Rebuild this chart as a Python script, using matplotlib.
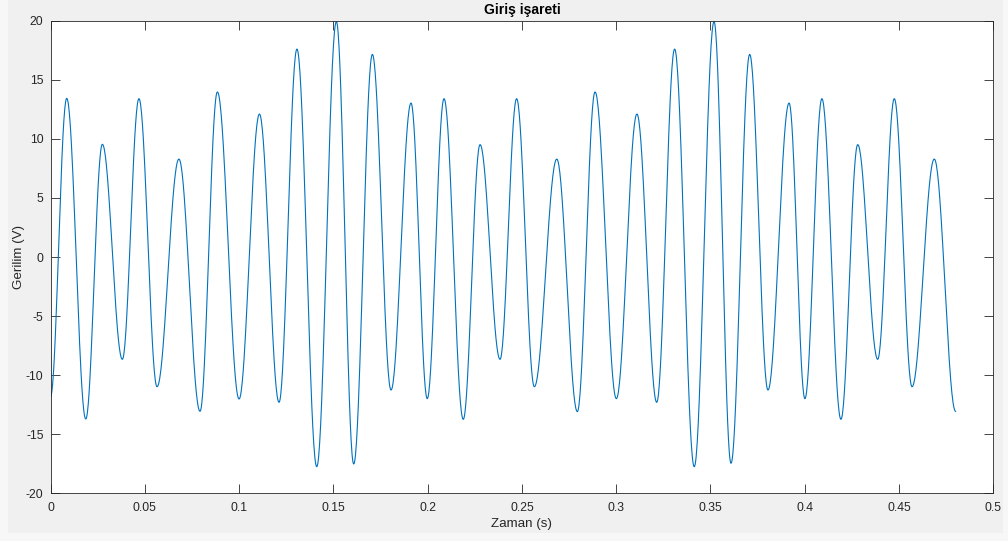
from __future__ import annotations

import numpy as np
import matplotlib

matplotlib.use("Agg")
import matplotlib.pyplot as plt
from matplotlib.patches import Rectangle


# local maxima of the input signal (time in s, voltage in V)
PEAK_T = [0.0086, 0.0275, 0.0469, 0.0681, 0.0885, 0.1108, 0.1307, 0.1516, 0.1707, 0.1912,
          0.2087, 0.2278, 0.2472, 0.2685, 0.2888, 0.3110, 0.3310, 0.3519, 0.3708, 0.3917,
          0.4091, 0.4281, 0.4475, 0.4687]
PEAK_V = [13.43, 9.54, 13.40, 8.29, 13.97, 12.10, 17.60, 19.92, 17.15, 13.03,
          13.40, 9.51, 13.40, 8.29, 13.97, 12.10, 17.60, 19.92, 17.15, 13.03,
          13.40, 9.51, 13.40, 8.29]

# local minima, including the first and last samples
TROUGH_T = [0.0, 0.0187, 0.0381, 0.0565, 0.0793, 0.1000, 0.1212, 0.1412, 0.1608, 0.1806,
            0.1998, 0.2189, 0.2384, 0.2566, 0.2794, 0.3001, 0.3215, 0.3414, 0.3609, 0.3805,
            0.4001, 0.4192, 0.4387, 0.4569, 0.4800]
TROUGH_V = [-11.82, -13.71, -8.66, -10.98, -13.06, -12.02, -12.30, -17.75, -17.52, -11.26,
            -11.99, -13.74, -8.66, -10.98, -13.09, -11.99, -12.30, -17.75, -17.46, -11.26,
            -11.99, -13.74, -8.66, -10.98, -13.06]

X_TICKS = [0, 0.05, 0.1, 0.15, 0.2, 0.25, 0.3, 0.35, 0.4, 0.45, 0.5]
X_TICK_LABELS = ["0", "0.05", "0.1", "0.15", "0.2", "0.25", "0.3", "0.35", "0.4", "0.45", "0.5"]
Y_TICKS = [-20, -15, -10, -5, 0, 5, 10, 15, 20]

LINE_COLOR = "#0072BD"
AXIS_COLOR = "#262626"
PANEL_BG = "#F0F0F0"


def configure_style() -> None:
    plt.rcParams.update(
        {
            "font.family": ["Liberation Sans", "DejaVu Sans"],
            "axes.unicode_minus": False,
            "xtick.direction": "in",
            "ytick.direction": "in",
            "xtick.color": AXIS_COLOR,
            "ytick.color": AXIS_COLOR,
        }
    )


def half_wave_path(t_ext, v_ext, n=40):
    # join successive extrema with half-cosine arcs
    ts, vs = [], []
    for i in range(len(t_ext) - 1):
        s = np.linspace(0.0, 1.0, n, endpoint=False)
        ts.append(t_ext[i] + (t_ext[i + 1] - t_ext[i]) * s)
        vs.append(v_ext[i] + (v_ext[i + 1] - v_ext[i]) * (1 - np.cos(np.pi * s)) / 2)
    ts.append(np.array([t_ext[-1]]))
    vs.append(np.array([v_ext[-1]]))
    return np.concatenate(ts), np.concatenate(vs)


def main() -> None:
    configure_style()
    fig = plt.figure(figsize=(10.08, 5.41), dpi=100, facecolor="#F7F7F7")
    fig.patches.append(
        Rectangle((8 / 1008, 8 / 541), 995 / 1008, 1 - 8 / 541,
                  transform=fig.transFigure, facecolor=PANEL_BG, edgecolor="none", zorder=-10)
    )
    ax = fig.add_axes([50.5 / 1008, 1 - 493.3 / 541, 942.8 / 1008, 472.6 / 541])
    ax.set_zorder(5)

    t_ext, v_ext = [TROUGH_T[0]], [TROUGH_V[0]]
    for k in range(len(PEAK_T)):
        t_ext += [PEAK_T[k], TROUGH_T[k + 1]]
        v_ext += [PEAK_V[k], TROUGH_V[k + 1]]
    t, v = half_wave_path(t_ext, v_ext)

    ax.plot(t, v, color=LINE_COLOR, linewidth=0.8)
    ax.set_xlim(0, 0.5)
    ax.set_ylim(-20, 20)
    ax.set_xticks(X_TICKS)
    ax.set_xticklabels(X_TICK_LABELS)
    ax.set_yticks(Y_TICKS)
    ax.tick_params(axis="both", which="both", top=True, right=True, length=6.8, width=0.6,
                   labelsize=8.8, labelcolor=AXIS_COLOR)
    ax.tick_params(axis="x", pad=6)
    ax.tick_params(axis="y", pad=5)
    for spine in ax.spines.values():
        spine.set_color(AXIS_COLOR)
        spine.set_linewidth(0.6)

    ax.set_title("Giriş işareti", fontsize=10, fontweight="bold", color="black", pad=5)
    ax.set_xlabel("Zaman (s)", fontsize=9.6, color=AXIS_COLOR, labelpad=3.5)
    ax.set_ylabel("Gerilim (V)", fontsize=9.6, color=AXIS_COLOR, labelpad=1)

    fig.savefig("out.png", dpi=100, facecolor=fig.get_facecolor())
    plt.close(fig)


if __name__ == "__main__":
    main()
